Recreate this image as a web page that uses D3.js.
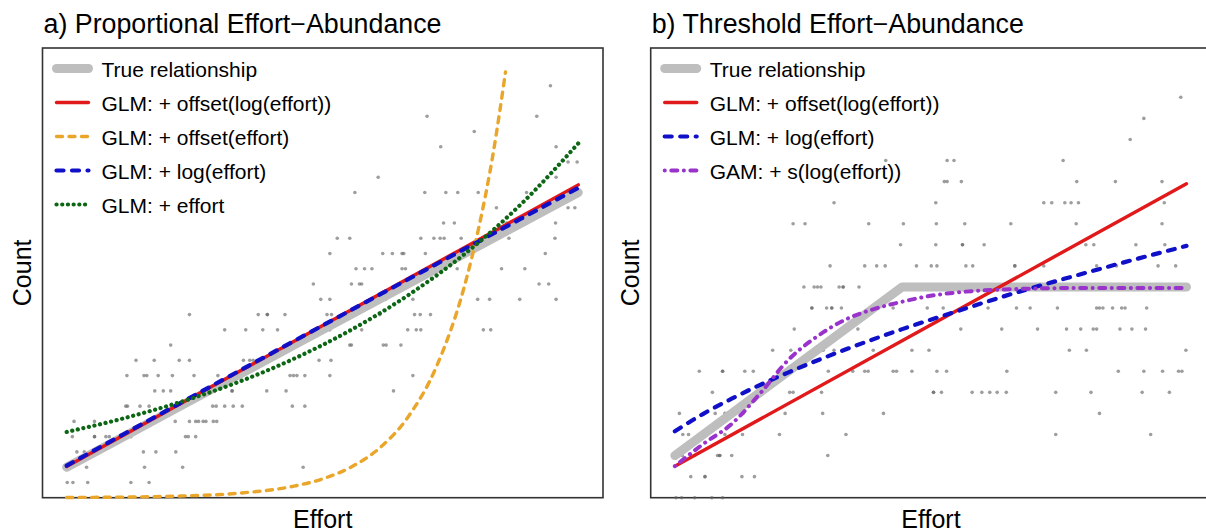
<!DOCTYPE html>
<html><head><meta charset="utf-8">
<script src="https://cdn.jsdelivr.net/npm/d3@7"></script>
<style>
body{margin:0;background:#fff;}
svg{display:block;}
text{font-family:"Liberation Sans",Arial,Helvetica,sans-serif;fill:#000;}
</style>
</head><body>
<svg id="chart" width="1206" height="532"></svg>
<script>
// ---------- data ----------
const titles = ["a) Proportional Effort\u2212Abundance", "b) Threshold Effort\u2212Abundance"];
const xLabel = "Effort";
const yLabel = "Count";

// observed points, panel a: counts and the efforts at which each count occurs
const countsA = [27,25,24,23,22,21,20,19,18,17,16,15,14,13,12,11,10,9,8,7,6,5,4,3,2,1];
const effortsA = [
  [9.51],
  [7.34,9.27],
  [8.17],
  [7.58,9.61],
  [9.82,9.98],
  [6.48,9.61],
  [6.07,7.30,7.67,7.88,8.24,9.09,9.82],
  [8.56,9.82,9.94],
  [7.63,7.82,8.74,9.60],
  [5.76,5.98,7.23,7.46,7.57,7.64,7.94,8.58,8.78,9.59],
  [5.63,6.56,6.73,6.90,6.93,7.31,9.42],
  [6.09,6.24,6.37,6.90,6.96,7.87,8.65,9.06],
  [5.34,6.01,6.15,6.19,6.99,9.31,9.48],
  [5.47,5.63,6.59,6.61,7.09,8.23,8.44,8.97,9.61],
  [3.16,4.37,4.53,4.53,4.84,5.58,5.66,6.51,7.12,7.22,7.40],
  [3.78,4.15,4.45,4.71,5.63,6.19,7.00,7.15,7.23,8.33,8.46],
  [2.83,5.98,6.01,6.57,6.62,6.88],
  [2.22,2.54,2.98,3.16,4.11,4.22,4.28,5.44,5.65],
  [2.06,2.36,2.41,2.61,2.86,3.24,3.66,4.93,4.99,5.05,5.19,5.63,7.09],
  [2.55,2.70,2.83,3.91,3.91,4.52,4.86,6.75],
  [2.04,2.07,2.29,2.45,3.57,3.63,3.78,3.93,4.09,4.97,5.19],
  [1.13,1.49,2.91,3.16,3.27,3.32,3.40,3.45,3.58,3.64],
  [1.10,1.49,1.49,1.69,1.75,2.13,3.09,3.14,3.27],
  [1.18,1.31,2.35,2.57,2.92],
  [1.35,2.37,3.04,5.16],
  [1.01,1.11,1.37,2.13,2.45]
];

// observed points, panel b
const countsB = [19,18,17,16,15,14,13,12,11,10,9,8,7,6,5,4,3,2,1,0];
const effortsB = [
  [9.90],
  [9.25],
  [9.01],
  [4.71,5.79,5.91,7.83],
  [5.74,5.79,6.04,8.07,8.75,9.57],
  [3.80,5.59,7.49,7.63,7.86,7.97,8.10,9.61],
  [3.08,3.29,4.41,5.02,5.60,6.10,6.91,8.06,9.57],
  [4.97,5.59,6.06,6.06,6.44,8.23,8.37,9.11,9.62],
  [3.73,4.34,4.55,4.70,5.25,5.51,5.61,6.12,6.24,6.98,6.98,7.49,8.42,8.77,9.50,9.81],
  [3.27,3.45,3.51,3.57,3.89,3.96,3.96,4.24,5.63,5.68,5.83,6.21,6.40],
  [3.41,3.41,3.67,3.76,3.76,3.93,4.84,5.44,5.72,6.51,7.01,7.25,7.73,8.42,8.47,8.53,8.70,8.86,8.92,9.30],
  [3.10,4.22,6.03,6.75,7.38,7.89,8.14,8.36,8.42,8.83,9.04,9.28],
  [2.72,3.04,3.58,3.61,3.80,4.49,5.17,5.47,7.94,8.24,9.99],
  [1.43,1.84,1.84,2.23,2.38,3.70,4.13,4.34,4.40,4.84,4.90,5.17,5.61,5.78,6.84,8.80,9.25,9.58,9.86,9.92],
  [1.66,3.02,3.08,3.58,5.55,5.55,5.69,6.23,6.40,6.54,6.67,6.83,7.70,8.32,9.22,9.70],
  [1.08,1.71,1.88,1.93,1.97,1.97,2.20,2.94,3.60,4.67,8.47],
  [1.14,1.24,1.88,2.19,2.84,4.01,7.70,9.37],
  [1.13,1.35,1.75,1.79,1.79,2.00,3.69],
  [1.28,1.53,1.53,2.18,2.40],
  [1.02,1.12,1.35,1.65,1.84]
];

// fitted curves, panel a
const effortGrid = [1,2,3,4,5,6,7,8,9,10];
const trueA      = [2,4,6,8,10,12,14,16,18,20];
const offLogA    = [2.05,4.10,6.15,8.20,10.25,12.30,14.35,16.40,18.45,20.50];
const logA       = [2.10,4.16,6.20,8.24,10.27,12.29,14.30,16.30,18.30,20.30];
const linA       = [4.31,5.20,6.27,7.55,9.11,10.99,13.25,15.97,19.26,23.22];
const offEffE    = [1,2,3,4,5,5.5,6,6.5,7,7.5,8,8.25,8.5,8.72];
const offEffA    = [0.016,0.041,0.109,0.287,0.756,1.23,2.0,3.24,5.26,8.55,13.9,17.7,22.5,27.9];

// fitted curves, panel b
const trueBE  = [1,5,10];
const trueB   = [2,10,10];
const offLogBE = [1,10];
const offLogB  = [1.49,14.9];
const logBE   = [1,1.5,2,3,4,5,6,7,8,9,10];
const logB    = [3.15,3.98,4.70,5.95,7.03,8.00,8.88,9.73,10.50,11.24,11.95];
const gamBE   = [1,1.5,2,2.5,3,3.5,4,4.5,5,5.5,6,7,8,9,10];
const gamB    = [1.5,2.55,3.5,4.95,6.55,7.65,8.45,8.95,9.3,9.58,9.75,9.9,9.95,9.95,9.95];

const legendA = ["True relationship","GLM: + offset(log(effort))","GLM: + offset(effort)","GLM: + log(effort)","GLM: + effort"];
const legendB = ["True relationship","GLM: + offset(log(effort))","GLM: + log(effort)","GAM: + s(log(effort))"];

// ---------- styles ----------
const ST = {
  truth:  {color:"#BEBEBE", w:9,   dash:null, straight:true},
  offLog: {color:"#E2191B", w:3.4, dash:null, straight:true},
  offEff: {color:"#E9A62A", w:3.4, dash:"6,6.5"},
  logE:   {color:"#1010C8", w:4.2, dash:"7,8.5"},
  lin:    {color:"#0C6614", w:4.2, dash:"0.1,5.6"},
  gam:    {color:"#9933CC", w:4,   dash:"0.1,6.5,6,6.5"}
};

// ---------- layout ----------
const svg = d3.select("#chart");
const plotTop = 48, plotBottom = 497.7, pw = 560.5;
const panels = [
  {left:42.5, yMax:29.47, title:titles[0], counts:countsA, efforts:effortsA,
   lines:[
     {st:"truth",  e:effortGrid, c:trueA},
     {st:"offLog", e:effortGrid, c:offLogA},
     {st:"offEff", e:offEffE,    c:offEffA},
     {st:"logE",   e:effortGrid, c:logA},
     {st:"lin",    e:effortGrid, c:linA}
   ],
   legend:[["truth",legendA[0]],["offLog",legendA[1]],["offEff",legendA[2]],["logE",legendA[3]],["lin",legendA[4]]]},
  {left:650.7, yMax:21.34, title:titles[1], counts:countsB, efforts:effortsB,
   lines:[
     {st:"truth",  e:trueBE,   c:trueB},
     {st:"offLog", e:offLogBE, c:offLogB},
     {st:"logE",   e:logBE,    c:logB},
     {st:"gam",    e:gamBE,    c:gamB}
   ],
   legend:[["truth",legendB[0]],["offLog",legendB[1]],["logE",legendB[2]],["gam",legendB[3]]]}
];

panels.forEach(p => {
  const x = d3.scaleLinear().domain([0.575, 10.435]).range([p.left, p.left + pw]);
  const y = d3.scaleLinear().domain([0, p.yMax]).range([plotBottom, plotTop]);
  const g = svg.append("g");

  // title
  g.append("text").attr("x", p.left + 1).attr("y", 33)
    .attr("font-size", 26.8).text(p.title);

  // axis labels
  g.append("text").attr("x", p.left + pw/2).attr("y", 528)
    .attr("text-anchor","middle").attr("font-size", 25).text(xLabel);
  g.append("text")
    .attr("transform", `translate(${p.left - 12},${(plotTop+plotBottom)/2}) rotate(-90)`)
    .attr("text-anchor","middle").attr("font-size", 25).text(yLabel);

  // frame
  g.append("rect").attr("x", p.left).attr("y", plotTop)
    .attr("width", pw).attr("height", plotBottom - plotTop)
    .attr("fill","none").attr("stroke","#333").attr("stroke-width",1.6);

  // points
  const pts = [];
  p.counts.forEach((c,i) => p.efforts[i].forEach(e => pts.push([e,c])));
  g.append("g").selectAll("circle").data(pts).join("circle")
    .attr("cx", d => x(d[0])).attr("cy", d => y(d[1])).attr("r", 1.8)
    .attr("fill", "#626262").attr("fill-opacity", 0.62);

  // lines
  p.lines.forEach(L => {
    const s = ST[L.st];
    const line = d3.line().x(d => x(d[0])).y(d => y(d[1]))
      .curve(s.straight ? d3.curveLinear : d3.curveMonotoneX);
    g.append("path").datum(L.e.map((e,i) => [e, L.c[i]]))
      .attr("d", line).attr("fill","none")
      .attr("stroke", s.color).attr("stroke-width", s.w)
      .attr("stroke-linecap","round").attr("stroke-linejoin","round")
      .attr("stroke-dasharray", s.dash);
  });

  // legend
  p.legend.forEach((L,i) => {
    const s = ST[L[0]];
    const ly = 68.5 + 34*i;
    g.append("line").attr("x1", p.left + 14).attr("x2", p.left + 46)
      .attr("y1", ly).attr("y2", ly)
      .attr("stroke", s.color).attr("stroke-width", s.w)
      .attr("stroke-linecap", "round").attr("stroke-dasharray", s.dash);
    g.append("text").attr("x", p.left + 59).attr("y", ly + 8.5)
      .attr("font-size", 21).text(L[1]);
  });
});
</script>
</body></html>
